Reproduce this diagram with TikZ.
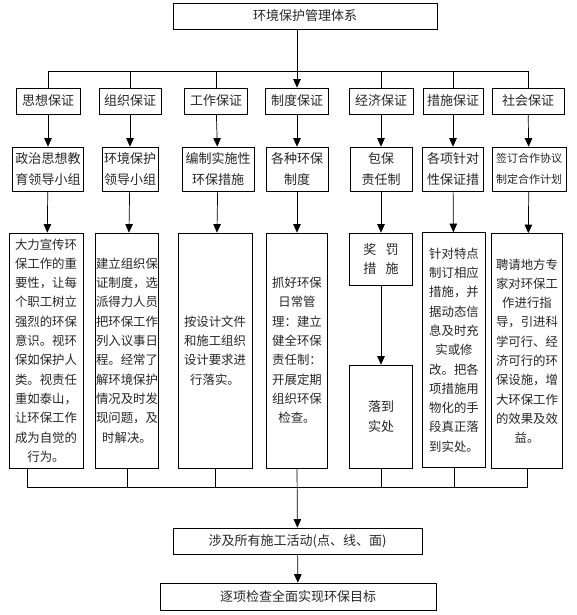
\documentclass[tikz,border=0pt]{standalone}
\usepackage{fontspec}
\setmainfont{Noto Sans CJK SC}
\usetikzlibrary{arrows.meta}

\begin{document}
\begin{tikzpicture}[x=1pt,y=-1pt,>={Triangle[width=7.5pt,length=8.5pt]},line width=0.7pt,
box/.style={draw,inner sep=0pt,align=center,text=black!85,font=\fontsize{13}{19.3}\selectfont},
head/.style={box,minimum height=26pt},
unit/.style={box,minimum height=44pt,font=\fontsize{13}{21}\selectfont},
task/.style={box,minimum height=235pt,font=\fontsize{12.4}{19.3}\selectfont}]
\useasboundingbox (0,0) rectangle (576,615);

\node[head,minimum width=264pt] (top) at (305,16) {环境保护管理体系};

% first row: the seven guarantees
\node[head,minimum width=64pt] (h1) at (48,101)  {思想保证};
\node[head,minimum width=62pt] (h2) at (130,101) {组织保证};
\node[head,minimum width=63pt] (h3) at (216,101) {工作保证};
\node[head,minimum width=63pt] (h4) at (297,101) {制度保证};
\node[head,minimum width=64pt] (h5) at (381,101) {经济保证};
\node[head,minimum width=60pt] (h6) at (453,101) {措施保证};
\node[head,minimum width=72pt] (h7) at (528,101) {社会保证};

% second row
\node[unit,minimum width=71pt] (g1) at (48,169)  {政治思想教\\育领导小组};
\node[unit,minimum width=56pt] (g2) at (130,169) {环境保护\\领导小组};
\node[unit,minimum width=72pt] (g3) at (218,169) {编制实施性\\环保措施};
\node[unit,minimum width=62pt] (g4) at (297,169) {各种环保\\制度};
\node[unit,minimum width=62pt] (g5) at (381,169) {包保\\责任制};
\node[unit,minimum width=61pt] (g6) at (453,169) {各项针对\\性保证措};
\node[unit,minimum width=74pt,font=\fontsize{11}{21}\selectfont] (g7) at (529,169) {签订合作协议\\制定合作计划};

% third row
\node[task,minimum width=74pt] (d1) at (46,350.5) {大力宣传环\\保工作的重\\要性，让每\\个职工树立\\强烈的环保\\意识。视环\\保如保护人\\类。视责任\\重如泰山，\\让环保工作\\成为自觉的\\行为。};
\node[task,minimum width=63pt] (d2) at (127,350.5) {建立组织保\\证制度，选\\派得力人员\\把环保工作\\列入议事日\\程。经常了\\解环境保护\\情况及时发\\现问题，及\\时解决。};
\node[task,minimum width=74pt] (d3) at (215,350.5) {按设计文件\\和施工组织\\设计要求进\\行落实。};
\node[task,minimum width=61pt] (d4) at (297,350.5) {抓好环保\\日常管\\理：建立\\健全环保\\责任制：\\开展定期\\组织环保\\检查。};
\node[box,minimum width=63pt,minimum height=52pt] (d5a) at (381,259) {奖\hspace{0.7em}罚\\措\hspace{0.7em}施};
\node[box,minimum width=63pt,minimum height=103pt] (d5b) at (381,416.5) {落到\\实处};
\node[task,minimum width=63pt] (d6) at (454,350) {针对特点\\制订相应\\措施，并\\据动态信\\息及时充\\实或修\\改。把各\\项措施用\\物化的手\\段真正落\\到实处。};
\node[task,minimum width=71pt] (d7) at (527,351) {聘请地方专\\家对环保工\\作进行指\\导，引进科\\学可行、经\\济可行的环\\保设施，增\\大环保工作\\的效果及效\\益。};

\node[head,minimum width=249pt] (act) at (297.5,541) {涉及所有施工活动(点、线、面)};
\node[head,minimum width=276pt,minimum height=27pt] (goal) at (298,596.5) {逐项检查全面实现环保目标};

\coordinate (busT) at (0,71);
\coordinate (busB) at (0,487);

\draw[->] (top.south -| h4) -- (h4.north);
\draw (h1.north) -- (h1.north |- busT) -- (h7.north |- busT) -- (h7.north);
\foreach \i in {2,3,5,6} \draw (h\i.north) -- (h\i.north |- busT);
\foreach \i in {1,...,7} \draw[->] (h\i) -- (g\i);
\foreach \i in {1,2,3,4,6,7} \draw[->] (g\i) -- (d\i);
\draw[->] (g5) -- (d5a);
\draw[->] (d5a) -- (d5b);
\draw ([xshift=19pt]d1.south west) -- ([xshift=19pt]d1.south west |- busB) -- (d7.south |- busB) -- (d7.south);
\foreach \n in {d2,d3,d5b,d6} \draw (\n.south) -- (\n.south |- busB);
\draw[->] (d4.south) -- (act);
\draw[->] (act) -- (goal);
\end{tikzpicture}
\end{document}
